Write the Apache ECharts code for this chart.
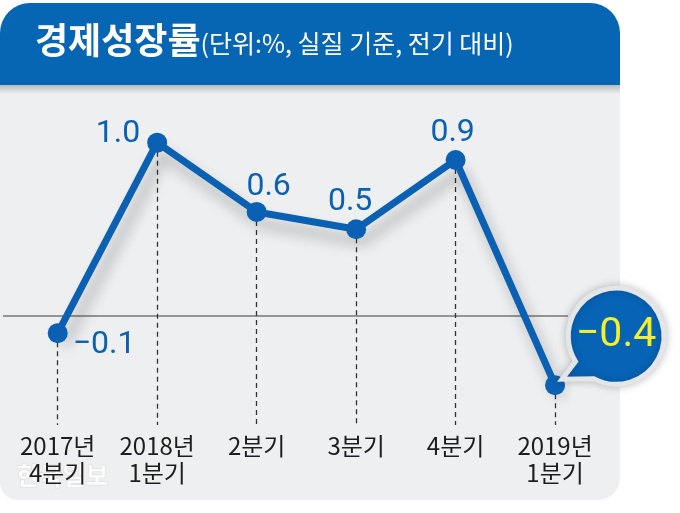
<!DOCTYPE html>
<html>
<head>
<meta charset="utf-8">
<script src="https://cdn.jsdelivr.net/npm/echarts@6/dist/echarts.min.js"></script>
<style>
  html, body { margin: 0; padding: 0; background: #fff; }
  #chart { width: 680px; height: 513px; }
</style>
</head>
<body>
<div id="chart"></div>
<script>
// 경제성장률 (전기 대비, %)
const categories = ['2017년\n4분기', '2018년\n1분기', '2분기', '3분기', '4분기', '2019년\n1분기'];
const growth = [-0.1, 1.0, 0.6, 0.5, 0.9, -0.4];
const titleMain = '경제성장률';
const titleSub = '(단위:%, 실질 기준, 전기 대비)';

const blue = '#0a60b2';
const yMin = -0.63;
const yMax = 1.2;
const fmt = v => String(v.toFixed(1)).replace('-', '−');

// where each value label sits around its point
const labelPlace = [
  {position: 'right', offset: [0, 12]},
  {position: 'left', offset: [-2, -9]},
  {position: 'top', offset: [12, 6]},
  {position: 'top', offset: [-6, 4]},
  {position: 'top', offset: [-3, 4]},
  {show: false}
];

const last = growth.length - 1;

const points = growth.map((v, i) => ({
  value: [i, v],
  label: Object.assign({show: true}, labelPlace[i])
}));

const dropLines = growth.map((v, i) => [
  {coord: [i, v]},
  {coord: [i, yMin]}
]);

const chart = echarts.init(document.getElementById('chart'));

chart.setOption({
  animation: false,
  backgroundColor: '#fff',
  graphic: [
    {type: 'rect', z: -10, shape: {x: 0, y: 40, width: 620, height: 460, r: [0, 0, 22, 18]},
      style: {fill: '#eeeff0'}},
    {type: 'rect', z: -9, shape: {x: 0, y: 85, width: 620, height: 9},
      style: {fill: new echarts.graphic.LinearGradient(0, 0, 0, 1, [
        {offset: 0, color: 'rgba(0,0,0,0.22)'}, {offset: 1, color: 'rgba(0,0,0,0)'}])}},
    {type: 'rect', z: -8, shape: {x: 0, y: 3, width: 620, height: 82, r: [30, 30, 0, 0]},
      style: {fill: '#0766b4'}},
    {type: 'text', z: -7, left: 16, top: 462,
      style: {text: '한국일보', fill: 'rgba(255,255,255,0.85)', stroke: '#dadada', lineWidth: 1,
        font: 'bold 25px "Noto Sans CJK KR"'}}
  ],
  title: {
    left: 30,
    top: 17,
    text: '{a|' + titleMain + '}{b|' + titleSub + '}',
    textStyle: {
      rich: {
        a: {fontFamily: '"Noto Sans CJK KR"', fontWeight: 'bold', fontSize: 36, color: '#fff'},
        b: {fontFamily: '"Noto Sans CJK KR"', fontWeight: 'normal', fontSize: 25, color: '#fff',
          padding: [7, 0, 0, 0]}
      }
    }
  },
  grid: {left: 0, right: 112, top: 108, bottom: 88},
  xAxis: {
    type: 'value',
    min: -0.55,
    max: 5.13,
    splitLine: {show: false},
    axisLine: {show: false},
    axisTick: {show: false},
    axisLabel: {
      margin: 7,
      fontFamily: '"Noto Sans CJK KR"',
      fontSize: 24,
      lineHeight: 27,
      color: '#1d1d1d',
      formatter: v => (Number.isInteger(v) && categories[v]) ? categories[v] : ''
    }
  },
  yAxis: {
    type: 'value',
    min: yMin,
    max: yMax,
    show: false
  },
  series: [{
    type: 'line',
    data: points,
    symbol: 'circle',
    symbolSize: 20,
    lineStyle: {color: blue, width: 7, shadowColor: 'rgba(0,0,0,0.28)', shadowBlur: 14,
      shadowOffsetX: 6, shadowOffsetY: 12},
    itemStyle: {color: blue},
    label: {
      color: blue,
      fontFamily: 'Roboto',
      fontSize: 32,
      formatter: p => fmt(p.value[1])
    },
    markLine: {
      z: 1,
      silent: true,
      symbol: 'none',
      label: {show: false},
      data: [
        {yAxis: 0, lineStyle: {color: '#777', width: 1.5, type: 'solid'}},
        ...dropLines.map(d => d.map(e => Object.assign({}, e, {
          lineStyle: {color: '#333', width: 1.3, type: [5, 4]}})))
      ]
    },
    markPoint: {
      silent: true,
      symbol: 'path://M -40.6 25.4 L -54 43 L -22 42.6 A 48 48 0 1 0 -40.6 25.4 Z',
      symbolSize: [102, 96],
      symbolOffset: [58, -49],
      itemStyle: {color: '#0763b6', borderColor: '#e4e5e6', borderWidth: 5,
        shadowColor: 'rgba(0,0,0,0.2)', shadowBlur: 8},
      label: {
        show: true,
        position: 'inside',
        offset: [3, 0],
        color: '#f4ef2a',
        fontFamily: 'Roboto',
        fontSize: 41,
        formatter: () => fmt(growth[last])
      },
      data: [{coord: [last, growth[last]]}]
    }
  }]
});
</script>
</body>
</html>
